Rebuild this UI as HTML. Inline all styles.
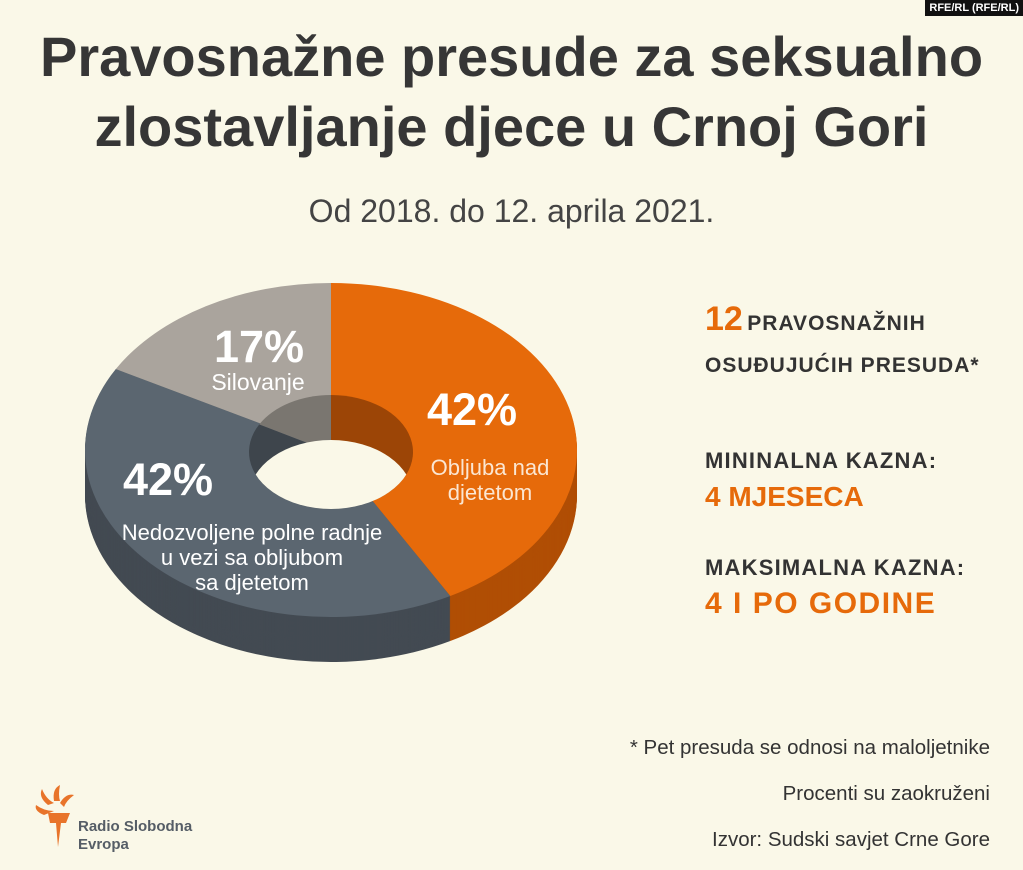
<!DOCTYPE html>
<html><head><meta charset="utf-8"><style>
body{margin:0;background:#faf8e8;}
#c{position:relative;width:1023px;height:870px;overflow:hidden;background:#faf8e8;font-family:"Liberation Sans",sans-serif;color:#333;}
.t{position:absolute;white-space:nowrap;}
</style></head><body><div id="c">
<div class="t" style="right:0;top:0;background:#111;color:#fff;font-size:11px;font-weight:bold;padding:2px 4px;">RFE/RL (RFE/RL)</div>
<div class="t" style="left:0;width:1023px;text-align:center;top:22px;font-size:56px;font-weight:bold;line-height:70px;color:#363636;">Pravosnažne presude za seksualno<br>zlostavljanje djece u Crnoj Gori</div>
<div class="t" style="left:0;width:1023px;text-align:center;top:193px;font-size:32px;color:#444;">Od 2018. do 12. aprila 2021.</div>
<svg id="s" width="1023" height="870" style="position:absolute;left:0;top:0">
<defs><clipPath id="hole"><ellipse cx="331" cy="452" rx="82" ry="57"/></clipPath></defs>
<g id="g"></g>
<g font-family="Liberation Sans, sans-serif" fill="#fff" text-anchor="middle">
<text x="259" y="362" font-size="45" font-weight="bold">17%</text>
<text x="258" y="390" font-size="23">Silovanje</text>
<text x="472" y="425" font-size="45" font-weight="bold">42%</text>
<text x="490" y="475" font-size="22" fill="#fbe6d2">Obljuba nad</text>
<text x="490" y="500" font-size="22" fill="#fbe6d2">djetetom</text>
<text x="168" y="495" font-size="45" font-weight="bold">42%</text>
<text x="252" y="540" font-size="22">Nedozvoljene polne radnje</text>
<text x="252" y="565" font-size="22">u vezi sa obljubom</text>
<text x="252" y="590" font-size="22">sa djetetom</text>
</g>
</svg>
<div class="t" style="left:705px;top:300px;font-weight:bold;"><span style="color:#e66a0a;font-size:34px;">12</span> <span style="font-size:21px;letter-spacing:1px;">PRAVOSNAŽNIH</span></div>
<div class="t" style="left:705px;top:354px;font-weight:bold;font-size:21px;letter-spacing:1px;">OSUĐUJUĆIH PRESUDA*</div>
<div class="t" style="left:705px;top:448px;font-weight:bold;font-size:22px;letter-spacing:1.2px;">MININALNA KAZNA:</div>
<div class="t" style="left:705px;top:481px;font-weight:bold;font-size:28px;color:#e66a0a;">4 MJESECA</div>
<div class="t" style="left:705px;top:555px;font-weight:bold;font-size:22px;letter-spacing:1.2px;">MAKSIMALNA KAZNA:</div>
<div class="t" style="left:705px;top:587px;font-weight:bold;font-size:30px;letter-spacing:1.5px;color:#e66a0a;">4 I PO GODINE</div>
<div class="t" style="right:33px;top:736px;font-size:20.5px;">* Pet presuda se odnosi na maloljetnike</div>
<div class="t" style="right:33px;top:782px;font-size:20.5px;">Procenti su zaokruženi</div>
<div class="t" style="right:33px;top:828px;font-size:20.5px;">Izvor: Sudski savjet Crne Gore</div>
<svg width="60" height="80" style="position:absolute;left:30px;top:785px">
<path d="M18 20 Q8 12 12 4 Q16 14 24 18 Z M24 16 Q22 4 30 0 Q28 10 30 16Z M30 18 Q36 8 44 10 Q36 16 34 22Z M14 30 Q4 26 6 20 Q14 26 24 26Z" fill="#e8742a"/>
<path d="M18 28 L40 28 L36 38 L31 38 L28 62 L26 38 L20 38 Z" fill="#e8742a"/>
</svg>
<div class="t" style="left:78px;top:818px;font-size:15px;font-weight:bold;color:#555d66;line-height:18px;">Radio Slobodna<br>Evropa</div>
</div>
<script>
var NS="http://www.w3.org/2000/svg",g=document.getElementById("g");
var cx=331,cy=450,rx=246,ry=167,D=45;
var sl=[[-90,61,"#e66a0a","#b04e05","#9c4506"],[61,209,"#5b6670","#434a52","#3e454c"],[209,270,"#aaa49d","#8a857e","#7a7670"]];
function sec(a,b,x,y,Rx,Ry,col){var r=Math.PI/180,p=document.createElementNS(NS,"path");
var x1=x+Rx*Math.cos(a*r),y1=y+Ry*Math.sin(a*r),x2=x+Rx*Math.cos(b*r),y2=y+Ry*Math.sin(b*r);
p.setAttribute("d","M"+x+" "+y+"L"+x1+" "+y1+"A"+Rx+" "+Ry+" 0 "+((b-a)>180?1:0)+" 1 "+x2+" "+y2+"Z");p.setAttribute("fill",col);g.appendChild(p);return p;}
for(var d=D;d>=1;d--)sl.forEach(function(s){sec(s[0],s[1],cx,cy+d,rx,ry,s[3]);});
sl.forEach(function(s){sec(s[0],s[1],cx,cy,rx,ry,s[2]);});
sl.forEach(function(s){sec(s[0],s[1],cx,452,82,57,s[4]);});
var h=document.createElementNS(NS,"ellipse");h.setAttribute("cx",cx);h.setAttribute("cy",452+D);h.setAttribute("rx",82);h.setAttribute("ry",57);h.setAttribute("fill","#faf8e8");h.setAttribute("clip-path","url(#hole)");g.appendChild(h);
</script>
</body></html>
